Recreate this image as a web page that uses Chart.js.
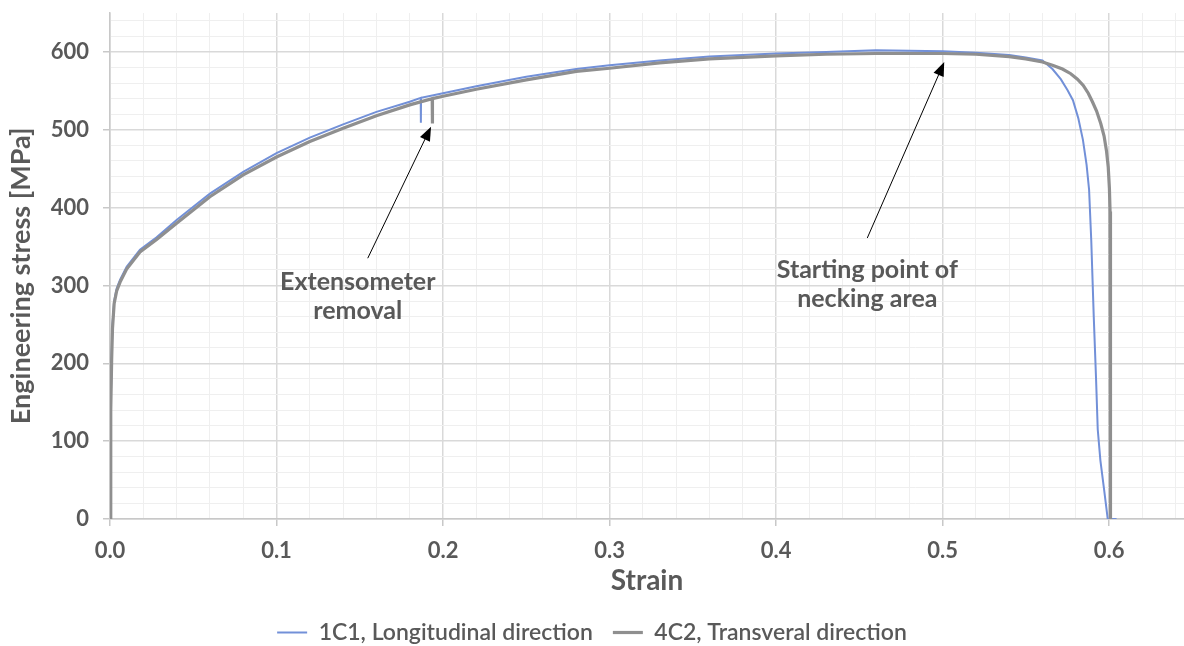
<!DOCTYPE html>
<html>
<head>
<meta charset="utf-8">
<script src="https://cdn.jsdelivr.net/npm/chart.js@4.4.1/dist/chart.umd.min.js"></script>
<style>
  body { margin: 0; background: #fff; }
  #wrap { width: 1184px; height: 646px; }
</style>
</head>
<body>
<div id="wrap"><canvas id="chart"></canvas></div>
<script>
// 1C1, longitudinal direction
var strain1 = [0, 0.0003, 0.0006, 0.001, 0.0015, 0.0025, 0.004, 0.006, 0.01, 0.018, 0.028, 0.04, 0.06, 0.08, 0.1, 0.12, 0.14, 0.16, 0.18, 0.1866, 0.1867, 0.1868, 0.2, 0.22, 0.25, 0.28, 0.3, 0.33, 0.36, 0.4, 0.43, 0.46, 0.5, 0.52, 0.54, 0.55, 0.56, 0.566, 0.571, 0.575, 0.5783, 0.5815, 0.5843, 0.5865, 0.588, 0.5893, 0.5908, 0.5922, 0.5932, 0.5948, 0.597, 0.5992, 0.6045]
var stress1 = [0, 60, 150, 210, 250, 280, 296, 307, 324, 346, 362, 384, 418, 446, 470, 490, 507, 523, 536, 541, 509, 541, 547, 556, 568, 578, 583, 589, 594, 598, 600, 602, 601, 599, 596, 593, 589, 578, 565, 551, 538, 515, 487, 455, 423, 358, 260, 179, 115, 75, 38, 0, 0]

// 4C2, transversal direction
var strain2 = [0, 0.0003, 0.0006, 0.001, 0.0015, 0.0025, 0.004, 0.006, 0.01, 0.018, 0.028, 0.04, 0.06, 0.08, 0.1, 0.12, 0.14, 0.16, 0.18, 0.1935, 0.1936, 0.1937, 0.2, 0.22, 0.25, 0.28, 0.3, 0.33, 0.36, 0.4, 0.43, 0.46, 0.5, 0.52, 0.54, 0.55, 0.56, 0.566, 0.572, 0.577, 0.581, 0.5845, 0.5875, 0.59, 0.5925, 0.595, 0.597, 0.5985, 0.5995, 0.6002, 0.6006, 0.6008, 0.6009]
var stress2 = [0, 55, 140, 205, 245, 277, 293, 304, 321, 343, 359, 380, 414, 442, 465, 485, 502, 518, 532, 540, 508, 540, 543, 552, 564, 575, 579, 586, 591, 595, 597, 598, 598, 597, 594, 591, 587, 583, 578, 572, 565, 557, 547, 536, 524, 508, 492, 472, 452, 425, 395, 358, 0]

var seriesNames = ["1C1, Longitudinal direction", "4C2, Transveral direction"]

var xTicks = [0, 0.02, 0.04, 0.06, 0.08, 0.1, 0.12, 0.14, 0.16, 0.18, 0.2, 0.22, 0.24, 0.26, 0.28, 0.3, 0.32, 0.34, 0.36, 0.38, 0.4, 0.42, 0.44, 0.46, 0.48, 0.5, 0.52, 0.54, 0.56, 0.58, 0.6, 0.62, 0.64]
var yTicks = [0, 20, 40, 60, 80, 100, 120, 140, 160, 180, 200, 220, 240, 260, 280, 300, 320, 340, 360, 380, 400, 420, 440, 460, 480, 500, 520, 540, 560, 580, 600, 620, 640]

// notes: text lines at a data point, arrow from tail to head
var notes = [
	{lines: ["Extensometer", "removal"], x: 0.1488, y: 305, tail: [0.1548, 335], head: [0.1928, 504]},
	{lines: ["Starting point of", "necking area"], x: 0.4548, y: 320, tail: [0.4548, 361], head: [0.501, 587]}
]

function toPoints(xs, ys){
	var pts = []
	for (var i = 0; i < xs.length; i++) pts.push({x: xs[i], y: ys[i]})
	return pts
}

function isMajor(v, step){
	return Math.abs(v / step - Math.round(v / step)) < 1e-6
}

var textGray = '#595959'
Chart.defaults.font.family = 'Lato, "Open Sans", sans-serif'
Chart.defaults.color = textGray

var notesPlugin = {
	id: 'notes',
	afterDatasetsDraw: function(chart){
		var ctx = chart.ctx, xs = chart.scales.x, ys = chart.scales.y
		ctx.save()
		notes.forEach(function(n){
			// arrow
			var x0 = xs.getPixelForValue(n.tail[0]), y0 = ys.getPixelForValue(n.tail[1])
			var x1 = xs.getPixelForValue(n.head[0]), y1 = ys.getPixelForValue(n.head[1])
			var a = Math.atan2(y1 - y0, x1 - x0)
			ctx.strokeStyle = '#000'
			ctx.fillStyle = '#000'
			ctx.lineWidth = 1
			ctx.beginPath()
			ctx.moveTo(x0, y0)
			ctx.lineTo(x1 - 10 * Math.cos(a), y1 - 10 * Math.sin(a))
			ctx.stroke()
			ctx.beginPath()
			ctx.moveTo(x1, y1)
			ctx.lineTo(x1 - 14 * Math.cos(a) + 5.5 * Math.sin(a), y1 - 14 * Math.sin(a) - 5.5 * Math.cos(a))
			ctx.lineTo(x1 - 14 * Math.cos(a) - 5.5 * Math.sin(a), y1 - 14 * Math.sin(a) + 5.5 * Math.cos(a))
			ctx.closePath()
			ctx.fill()
			// label
			var cx = xs.getPixelForValue(n.x), cy = ys.getPixelForValue(n.y)
			ctx.font = 'bold 25px Lato, "Open Sans", sans-serif'
			ctx.fillStyle = textGray
			ctx.textAlign = 'center'
			ctx.textBaseline = 'middle'
			n.lines.forEach(function(t, i){
				ctx.fillText(t, cx, cy + i * 29)
			})
		})
		ctx.restore()
	}
}

var ctx = document.getElementById("chart")
var myChart = new Chart(ctx, {
	type: 'scatter',
	data: {
		datasets: [{
			label: seriesNames[0],
			data: toPoints(strain1, stress1),
			borderColor: '#7290d8',
			backgroundColor: '#7290d8',
			borderWidth: 2,
			showLine: true,
			pointRadius: 0,
			tension: 0,
			order: 2
		}, {
			label: seriesNames[1],
			data: toPoints(strain2, stress2),
			borderColor: '#8f8f8f',
			backgroundColor: '#8f8f8f',
			borderWidth: 3.2,
			showLine: true,
			pointRadius: 0,
			tension: 0,
			order: 1
		}]
	},
	options: {
		responsive: true,
		maintainAspectRatio: false,
		animation: false,
		layout: {padding: {top: 13, left: 0, right: 0, bottom: -8}},
		plugins: {
			tooltip: {enabled: false},
			legend: {
				position: 'bottom',
				labels: {
					usePointStyle: true,
					pointStyle: 'line',
					pointStyleWidth: 30,
					padding: 20,
					color: textGray,
					font: {size: 23, weight: '600'},
					sort: function(a, b){ return a.datasetIndex - b.datasetIndex }
				}
			}
		},
		scales: {
			x: {
				type: 'linear',
				min: 0,
				max: 0.645,
				afterBuildTicks: function(s){ s.ticks = xTicks.map(function(v){ return {value: v} }) },
				afterFit: function(s){ s.height = 82; s.paddingLeft = 0; s.paddingRight = 0 },
				border: {color: '#c8c8c8', width: 1.5},
				grid: {
					color: function(c){ return isMajor(c.tick.value, 0.1) ? '#d9d9d9' : '#efefef' },
					lineWidth: function(c){ return isMajor(c.tick.value, 0.1) ? 1.5 : 1 },
					tickColor: function(c){ return isMajor(c.tick.value, 0.1) ? '#c8c8c8' : 'rgba(0,0,0,0)' },
					tickLength: 7
				},
				ticks: {
					autoSkip: false,
					maxRotation: 0,
					padding: 12,
					color: textGray,
					font: {size: 22, weight: 'bold'},
					callback: function(v){ return isMajor(v, 0.1) ? v.toFixed(1) : '' }
				},
				title: {
					display: true,
					text: 'Strain',
					color: textGray,
					font: {size: 28, weight: 'bold'},
					padding: {top: 0, bottom: 3}
				}
			},
			y: {
				type: 'linear',
				min: 0,
				max: 650,
				afterBuildTicks: function(s){ s.ticks = yTicks.map(function(v){ return {value: v} }) },
				afterFit: function(s){ s.width = 110; s.paddingTop = 0; s.paddingBottom = 0 },
				border: {color: '#c8c8c8', width: 1.5},
				grid: {
					color: function(c){ return isMajor(c.tick.value, 100) ? '#d9d9d9' : '#efefef' },
					lineWidth: function(c){ return isMajor(c.tick.value, 100) ? 1.5 : 1 },
					tickColor: function(c){ return isMajor(c.tick.value, 100) ? '#c8c8c8' : 'rgba(0,0,0,0)' },
					tickLength: 7
				},
				ticks: {
					autoSkip: false,
					padding: 14,
					color: textGray,
					font: {size: 22, weight: 'bold'},
					callback: function(v){ return isMajor(v, 100) ? String(v) : '' }
				},
				title: {
					display: true,
					text: 'Engineering stress [MPa]   ',
					color: textGray,
					font: {size: 27, weight: 'bold'},
					padding: {top: 5, bottom: 0}
				}
			}
		}
	},
	plugins: [notesPlugin]
})
</script>
</body>
</html>
